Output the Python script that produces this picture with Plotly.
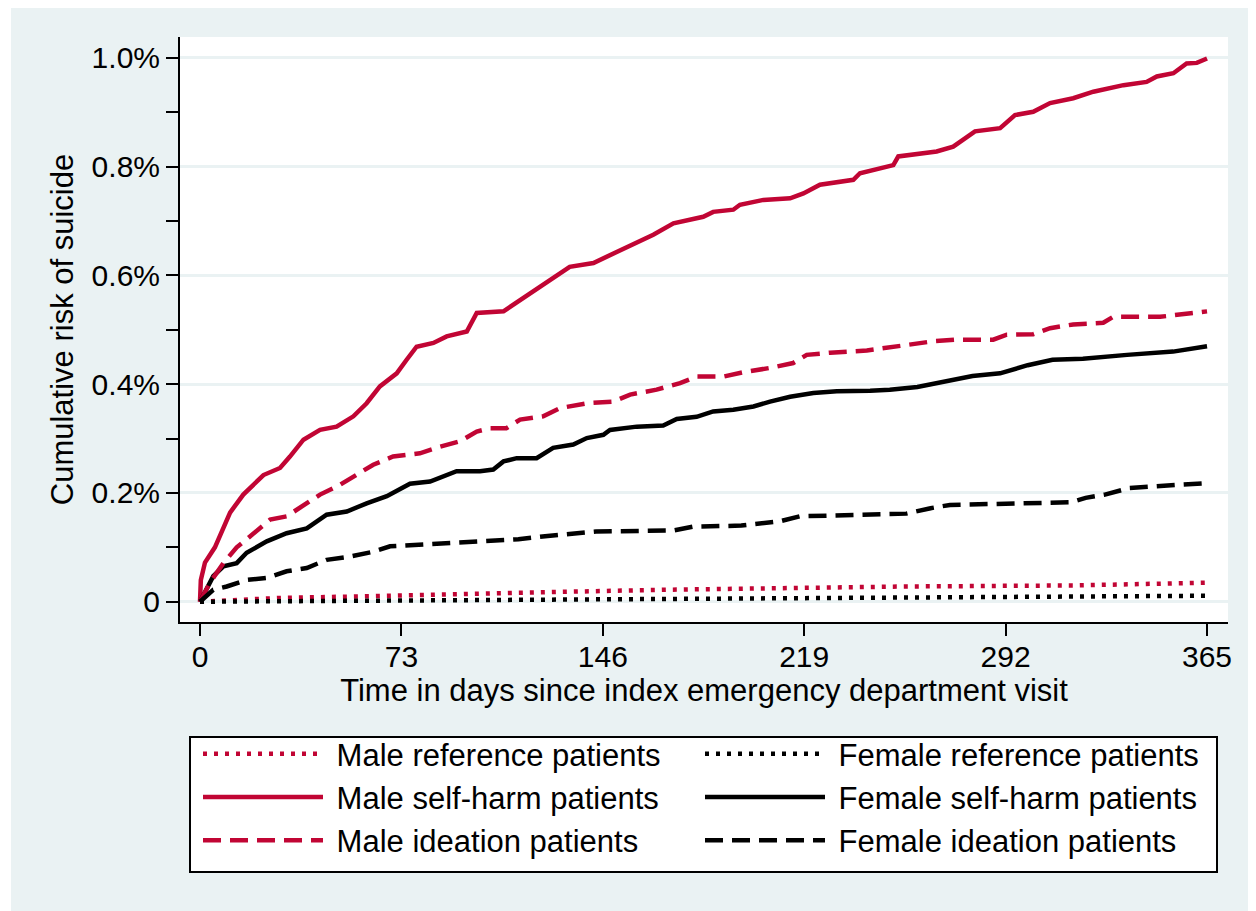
import plotly.graph_objects as go

# ---- data (cumulative risk, %) ----
msh_days = [0, 0.3, 1.8, 5.4, 10.9, 15.7, 23, 29, 32.6, 37.5, 43.5, 49.5, 55.6, 60.4, 65.2, 71.3, 74.9, 78.5,
            84.6, 89.4, 96.7, 100.3, 110, 116, 122, 130.5, 134, 142.6, 148.6, 155.9, 164.3, 171.6, 182.4, 186,
            193.3, 195.7, 204.2, 213.9, 218.7, 224.7, 236.8, 239.2, 251.3, 253.1, 267, 273, 280.9, 290, 295.4,
            302, 308.1, 316.5, 323.8, 334.7, 343.1, 346.8, 352.8, 357.6, 361.3, 365]
msh_vals = [0, 0.04, 0.072, 0.10, 0.164, 0.197, 0.233, 0.246, 0.267, 0.298, 0.316, 0.322, 0.341, 0.365, 0.396,
            0.42, 0.445, 0.469, 0.476, 0.488, 0.497, 0.531, 0.534, 0.555, 0.574, 0.604, 0.616, 0.623, 0.638,
            0.656, 0.675, 0.696, 0.708, 0.717, 0.721, 0.73, 0.739, 0.742, 0.751, 0.767, 0.776, 0.788, 0.803,
            0.819, 0.828, 0.837, 0.865, 0.871, 0.895, 0.901, 0.917, 0.926, 0.938, 0.95, 0.956, 0.966, 0.972,
            0.99, 0.991, 0.999]

mid_days = [0, 3.6, 8.5, 13.3, 18.1, 25.4, 31.4, 38.7, 43.5, 50.7, 58, 62.8, 70, 79.7, 87, 94.2, 100.3, 105,
            111, 116, 124.4, 130.5, 140.2, 149.8, 155.9, 165.5, 174, 180, 189.7, 196.9, 206.6, 215, 219.9,
            228.4, 241.7, 247.7, 257.3, 265.8, 274.3, 287.5, 292.4, 302, 308.1, 316.5, 327.4, 331, 348, 354, 365]
mid_vals = [0, 0.035, 0.071, 0.10, 0.12, 0.151, 0.157, 0.181, 0.197, 0.215, 0.237, 0.252, 0.267, 0.273, 0.285,
            0.295, 0.313, 0.319, 0.319, 0.335, 0.341, 0.356, 0.365, 0.368, 0.381, 0.39, 0.402, 0.414, 0.414,
            0.422, 0.43, 0.439, 0.454, 0.458, 0.462, 0.466, 0.474, 0.479, 0.482, 0.482, 0.491, 0.492, 0.503,
            0.51, 0.513, 0.524, 0.524, 0.528, 0.534]

fsh_days = [0, 4.8, 8.5, 13.3, 16.9, 24.2, 31.4, 38.7, 45.9, 53.2, 60.4, 67.7, 76.1, 83.4, 93, 101.5, 106.3,
            110, 114.8, 122, 128, 135.3, 140.2, 146.2, 148.6, 158.3, 167.9, 172.8, 180, 186, 193.3, 200.6,
            206.6, 213.9, 222.3, 230.8, 242.9, 250, 260, 270, 280, 290, 300, 309, 320, 336, 352.7, 365]
fsh_vals = [0, 0.047, 0.065, 0.071, 0.09, 0.111, 0.126, 0.135, 0.16, 0.166, 0.181, 0.194, 0.217, 0.221, 0.24,
            0.24, 0.243, 0.258, 0.264, 0.264, 0.283, 0.289, 0.301, 0.307, 0.316, 0.322, 0.324, 0.336, 0.34,
            0.35, 0.353, 0.359, 0.368, 0.377, 0.384, 0.387, 0.388, 0.39, 0.395, 0.405, 0.415, 0.42, 0.435,
            0.445, 0.447, 0.454, 0.46, 0.47]

fid_days = [0, 4.8, 9.7, 16.9, 24.2, 31.4, 38.7, 45.9, 54.4, 62.8, 68.9, 79.7, 91.8, 100.3, 115.4, 126,
            143.5, 171.7, 178.7, 196.2, 210.3, 217.3, 256, 264.8, 271.8, 315.7, 321, 328, 336.8, 354.4, 365]
fid_vals = [0, 0.022, 0.028, 0.04, 0.044, 0.056, 0.062, 0.077, 0.083, 0.092, 0.102, 0.105, 0.108, 0.111,
            0.115, 0.121, 0.129, 0.131, 0.138, 0.14, 0.148, 0.157, 0.162, 0.172, 0.178, 0.183, 0.191, 0.197,
            0.209, 0.215, 0.218]

mref_days = [0, 10, 29, 50, 73, 98, 130, 168, 210, 256, 317, 340, 365]
mref_vals = [0, 0.003, 0.007, 0.009, 0.012, 0.015, 0.018, 0.022, 0.025, 0.028, 0.030, 0.032, 0.035]

fref_days = [0, 50, 98, 150, 200, 256, 300, 340, 365]
fref_vals = [0, 0.0015, 0.003, 0.005, 0.007, 0.008, 0.009, 0.010, 0.011]

x_ticks = [0, 73, 146, 219, 292, 365]
y_ticks = [0, 0.2, 0.4, 0.6, 0.8, 1.0]
y_ticktext = ["0", "0.2%", "0.4%", "0.6%", "0.8%", "1.0%"]
y_minor = [0.1, 0.3, 0.5, 0.7, 0.9]

RED = "#C10534"
BLACK = "#000000"
BG = "#EAF2F3"
FONT = "Liberation Sans, Arial, sans-serif"
NB = "\u00a0"

fig = go.Figure()

def add(days, vals, name, color, dash, legend):
    fig.add_trace(go.Scatter(x=days, y=vals, mode="lines", name=NB + name,
                             line=dict(color=color, width=4.5, dash=dash),
                             legend=legend, hoverinfo="skip"))

add(mref_days, mref_vals, "Male reference patients", RED, "4px,7px", "legend")
add(fref_days, fref_vals, "Female reference patients", BLACK, "4px,7px", "legend2")
add(msh_days, msh_vals, "Male self-harm patients", RED, "solid", "legend")
add(fsh_days, fsh_vals, "Female self-harm patients", BLACK, "solid", "legend2")
add(mid_days, mid_vals, "Male ideation patients", RED, "18px,9px", "legend")
add(fid_days, fid_vals, "Female ideation patients", BLACK, "18px,9px", "legend2")

# page is offset by the default 8px body margin
OFF = 8
L, R, T, B = 180, 1228, 37, 622          # plot area in page pixels
W, H = 1256 - OFF, 911 - OFF             # figure size
pw, ph = R - L, B - T

def px(x):
    return (x - L) / pw

def py(y):
    return (B - y) / ph

shapes = [
    dict(type="rect", xref="paper", yref="paper", x0=px(190), x1=px(1217), y0=py(872), y1=py(737),
         line=dict(color="black", width=2), fillcolor="white", layer="below"),
    dict(type="rect", xref="paper", yref="paper", x0=px(OFF), x1=px(11), y0=py(911), y1=py(OFF),
         line=dict(width=0), fillcolor="white", layer="above"),
]

legend_common = dict(font=dict(family=FONT, size=31, color="black"), bgcolor="rgba(0,0,0,0)",
                     borderwidth=0, itemwidth=120, orientation="v", xanchor="left", yanchor="top",
                     itemclick=False, itemdoubleclick=False)

fig.update_layout(
    width=W, height=H, autosize=False,
    margin=dict(l=L - OFF, r=1256 - R, t=T - OFF, b=911 - B),
    paper_bgcolor=BG, plot_bgcolor="white",
    font=dict(family=FONT, color="black"),
    showlegend=True,
    legend=dict(x=px(198), y=py(727), **legend_common),
    legend2=dict(x=px(700), y=py(727), **legend_common),
    shapes=shapes,
    xaxis=dict(range=[-7.25, 372.6], tickmode="array", tickvals=x_ticks,
               ticks="outside", ticklen=12, tickwidth=2, tickcolor="black",
               showline=True, linecolor="black", linewidth=2, mirror=False,
               showgrid=False, zeroline=False, ticklabelstandoff=-5,
               tickfont=dict(family=FONT, size=30, color="black"),
               title=dict(text="Time in days since index emergency department visit",
                          font=dict(family=FONT, size=31, color="black"), standoff=6)),
    yaxis=dict(range=[-0.0373, 1.0386], tickmode="array", tickvals=y_ticks, ticktext=y_ticktext,
               ticks="outside", ticklen=12, tickwidth=2, tickcolor="black",
               showline=True, linecolor="black", linewidth=2,
               showgrid=True, gridcolor=BG, gridwidth=2.5, zeroline=False,
               minor=dict(tickmode="array", tickvals=y_minor, ticks="outside", ticklen=12,
                          tickwidth=2, tickcolor="black", showgrid=False),
               tickfont=dict(family=FONT, size=30, color="black"),
               title=dict(text="Cumulative risk of suicide",
                          font=dict(family=FONT, size=31, color="black"), standoff=9)),
)

fig.write_html("out.html")
